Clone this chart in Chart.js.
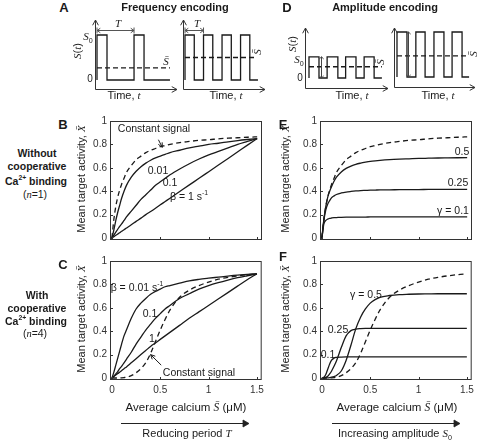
<!DOCTYPE html>
<html>
<head>
<meta charset="utf-8">
<script src="https://cdn.jsdelivr.net/npm/chart.js@4.4.1/dist/chart.umd.min.js"></script>
<style>
html, body { margin: 0; padding: 0; background: #fff; overflow: hidden; }
#fig { position: relative; width: 478px; height: 440px; overflow: hidden; font-family: "Liberation Sans", Arial, sans-serif; color: #1a1a1a; }
#fig canvas, #fig svg { position: absolute; }
.lbl { position: absolute; white-space: nowrap; line-height: 1; transform: translate(-50%, -50%); }
.rot { transform: translate(-50%, -50%) rotate(-90deg); }
.m { font-family: "Liberation Serif", "Times New Roman", serif; font-style: italic; }
sup, sub { font-size: 65%; line-height: 0; }
</style>
</head>
<body>
<div id="fig">
<svg width="478" height="440" style="left:0;top:0">
  <g stroke="#222" stroke-width="1.2" fill="#222">
    <path d="M121 423.5H244" />
    <path d="M243 420L249 423.5L243 427Z" stroke-width="0.8" />
    <path d="M332 423.5H455" />
    <path d="M454 420L460 423.5L454 427Z" stroke-width="0.8" />
  </g>
</svg>
</div>
<script>
// average calcium grid (uM) shared by the steady-state curves
var avgCalcium = [0, 0.02, 0.04, 0.06, 0.08, 0.1, 0.125, 0.15, 0.2, 0.25, 0.3, 0.35, 0.4, 0.45, 0.5, 0.55, 0.6, 0.7, 0.8, 0.9, 1.0, 1.1, 1.2, 1.3, 1.4, 1.5];

// constant signal (dashed), n=1 and n=4
var constantN1 = [0, 0.16, 0.27, 0.35, 0.41, 0.46, 0.51, 0.56, 0.62, 0.67, 0.70, 0.73, 0.75, 0.765, 0.78, 0.79, 0.80, 0.815, 0.825, 0.835, 0.84, 0.848, 0.853, 0.857, 0.861, 0.865];
var constantN4 = [0, 0, 0, 0, 0.001, 0.002, 0.004, 0.007, 0.02, 0.045, 0.08, 0.13, 0.21, 0.31, 0.41, 0.5, 0.58, 0.69, 0.75, 0.79, 0.82, 0.845, 0.86, 0.873, 0.883, 0.89];

// B: frequency encoding, n=1
var freqN1Beta001 = [0, 0.07, 0.15, 0.22, 0.28, 0.34, 0.40, 0.45, 0.52, 0.57, 0.61, 0.64, 0.665, 0.685, 0.70, 0.715, 0.73, 0.75, 0.77, 0.785, 0.80, 0.81, 0.822, 0.833, 0.842, 0.85];
var freqN1Beta01 = [0, 0.025, 0.05, 0.075, 0.10, 0.12, 0.15, 0.18, 0.23, 0.28, 0.33, 0.37, 0.41, 0.45, 0.48, 0.51, 0.54, 0.59, 0.635, 0.675, 0.71, 0.74, 0.77, 0.80, 0.825, 0.85];
var freqN1Beta1 = [0, 0.011, 0.023, 0.034, 0.045, 0.057, 0.071, 0.085, 0.113, 0.142, 0.17, 0.2, 0.227, 0.255, 0.284, 0.312, 0.34, 0.397, 0.454, 0.51, 0.567, 0.624, 0.68, 0.737, 0.794, 0.85];

// C: frequency encoding, n=4
var freqN4Beta001 = [0, 0.05, 0.11, 0.17, 0.23, 0.29, 0.36, 0.41, 0.51, 0.59, 0.64, 0.68, 0.715, 0.74, 0.76, 0.78, 0.79, 0.81, 0.83, 0.843, 0.853, 0.862, 0.871, 0.879, 0.885, 0.891];
var freqN4Beta01 = [0, 0.015, 0.035, 0.055, 0.08, 0.10, 0.13, 0.16, 0.22, 0.29, 0.35, 0.41, 0.46, 0.51, 0.55, 0.59, 0.62, 0.68, 0.72, 0.76, 0.79, 0.815, 0.837, 0.857, 0.874, 0.89];
var freqN4Beta1 = [0, 0.012, 0.025, 0.038, 0.05, 0.063, 0.08, 0.095, 0.13, 0.165, 0.2, 0.235, 0.27, 0.3, 0.33, 0.36, 0.39, 0.45, 0.51, 0.565, 0.62, 0.675, 0.73, 0.785, 0.84, 0.89];

// E: amplitude encoding, n=1
var ampN1Gamma05 = [0, 0.16, 0.27, 0.35, 0.40, 0.44, 0.485, 0.52, 0.565, 0.595, 0.615, 0.63, 0.64, 0.648, 0.655, 0.66, 0.664, 0.67, 0.674, 0.677, 0.68, 0.682, 0.684, 0.685, 0.686, 0.687];
var ampN1Gamma025 = [0, 0.15, 0.24, 0.29, 0.32, 0.345, 0.36, 0.372, 0.385, 0.393, 0.398, 0.402, 0.405, 0.407, 0.409, 0.41, 0.411, 0.412, 0.413, 0.414, 0.414, 0.415, 0.415, 0.415, 0.416, 0.416];
var ampN1Gamma01 = [0, 0.12, 0.15, 0.162, 0.168, 0.171, 0.174, 0.175, 0.177, 0.178, 0.178, 0.179, 0.179, 0.179, 0.18, 0.18, 0.18, 0.18, 0.18, 0.18, 0.18, 0.18, 0.18, 0.18, 0.18, 0.18];

// F: amplitude encoding, n=4
var ampN4Gamma05 = [0, 0, 0.001, 0.002, 0.004, 0.007, 0.013, 0.022, 0.06, 0.15, 0.28, 0.42, 0.52, 0.59, 0.64, 0.67, 0.69, 0.705, 0.713, 0.716, 0.718, 0.719, 0.72, 0.72, 0.72, 0.72];
var ampN4Gamma025 = [0, 0.001, 0.005, 0.015, 0.035, 0.06, 0.1, 0.145, 0.26, 0.36, 0.405, 0.418, 0.422, 0.424, 0.425, 0.425, 0.425, 0.425, 0.425, 0.425, 0.425, 0.425, 0.425, 0.425, 0.425, 0.425];
var ampN4Gamma01 = [0, 0.006, 0.03, 0.075, 0.12, 0.152, 0.17, 0.176, 0.179, 0.18, 0.18, 0.18, 0.18, 0.18, 0.18, 0.18, 0.18, 0.18, 0.18, 0.18, 0.18, 0.18, 0.18, 0.18, 0.18, 0.18];

var xTicks = [0, 0.5, 1, 1.5];
var xTickLabels = ['0', '0.5', '1', '1.5'];
var yTicks = [0, 0.2, 0.4, 0.6, 0.8, 1];
var yTickLabels = ['0', '0.2', '0.4', '0.6', '0.8', '1'];

// square-wave sketches (time in units of the slow period, signal in units of S0 of the tall wave)
var sigA1Time = [0, 0, 0.27, 0.27, 1.0, 1.0, 1.27, 1.27, 1.97];
var sigA1Level = [0, 1, 1, 0, 0, 1, 1, 0, 0];
var sigA2Time = [0, 0, 0.25, 0.25, 0.5, 0.5, 0.75, 0.75, 1.0, 1.0, 1.25, 1.25, 1.5, 1.5, 1.75, 1.75, 1.97];
var sigA2Level = [0, 1, 1, 0, 0, 1, 1, 0, 0, 1, 1, 0, 0, 1, 1, 0, 0];
var sigD1Time = [0, 0, 0.27, 0.27, 0.49, 0.49, 0.78, 0.78, 0.99, 0.99, 1.27, 1.27, 1.49, 1.49, 1.76, 1.76, 1.97];
var sigD1Level = [0, 0.47, 0.47, 0, 0, 0.47, 0.47, 0, 0, 0.47, 0.47, 0, 0, 0.47, 0.47, 0, 0];
var sigD2Time = [0, 0, 0.27, 0.27, 0.51, 0.51, 0.76, 0.76, 1.0, 1.0, 1.27, 1.27, 1.49, 1.49, 1.76, 1.76, 1.95];
var sigD2Level = [0, 1, 1, 0, 0, 1, 1, 0, 0, 1, 1, 0, 0, 1, 1, 0, 0];
var meanA1 = 0.27, meanA2 = 0.5, meanD1 = 0.25, meanD2 = 0.47;

var fig = document.getElementById('fig');
var INK = '#1a1a1a';

function label(html, x, y, size, bold, rot) {
    var d = document.createElement('div');
    d.className = 'lbl' + (rot ? ' rot' : '');
    d.style.left = x + 'px';
    d.style.top = y + 'px';
    d.style.fontSize = size + 'px';
    if (bold) d.style.fontWeight = 'bold';
    d.innerHTML = html;
    fig.appendChild(d);
}

function addCanvas(left, top, w, h) {
    var cv = document.createElement('canvas');
    cv.width = w;
    cv.height = h;
    cv.style.left = left + 'px';
    cv.style.top = top + 'px';
    fig.appendChild(cv);
    return cv;
}

function arrowHead(c, x0, y0, x1, y1, len, spread) {
    var ang = Math.atan2(y1 - y0, x1 - x0);
    c.beginPath();
    c.moveTo(x1 - len * Math.cos(ang - spread), y1 - len * Math.sin(ang - spread));
    c.lineTo(x1, y1);
    c.lineTo(x1 - len * Math.cos(ang + spread), y1 - len * Math.sin(ang + spread));
    c.stroke();
}

// box, inward ticks and pointer arrows for the steady-state plots
function framePlugin(pointers) {
    return {
        id: 'frame',
        afterDatasetsDraw: function (chart) {
            var a = chart.chartArea, c = chart.ctx, sx = chart.scales.x, sy = chart.scales.y;
            c.save();
            c.setLineDash([]);
            c.strokeStyle = '#333';
            c.lineWidth = 1;
            c.strokeRect(a.left + 0.5, a.top + 0.5, a.right - a.left - 1, a.bottom - a.top - 1);
            c.beginPath();
            xTicks.forEach(function (v) {
                var p = Math.round(sx.getPixelForValue(v)) + 0.5;
                c.moveTo(p, a.bottom);
                c.lineTo(p, a.bottom - 3);
            });
            yTicks.forEach(function (v) {
                var p = Math.round(sy.getPixelForValue(v)) + 0.5;
                c.moveTo(a.left, p);
                c.lineTo(a.left + 3, p);
            });
            c.stroke();
            c.strokeStyle = INK;
            pointers.forEach(function (pt) {
                var x0 = sx.getPixelForValue(pt[0]), y0 = sy.getPixelForValue(pt[1]);
                var x1 = sx.getPixelForValue(pt[2]), y1 = sy.getPixelForValue(pt[3]);
                c.beginPath();
                c.moveTo(x0, y0);
                c.lineTo(x1, y1);
                c.stroke();
                arrowHead(c, x0, y0, x1, y1, 5, 0.45);
            });
            c.restore();
        }
    };
}

function steadyChart(box, series, showX, pointers) {
    var cv = addCanvas(box.x - 40, box.y - 8, box.w + 46, box.h + 28);
    var datasets = series.map(function (s) {
        return {
            data: avgCalcium.map(function (x, i) { return { x: x, y: s.values[i] }; }),
            borderColor: INK,
            borderWidth: 1.3,
            borderDash: s.dashed ? [5, 3.5] : [],
            pointRadius: 0,
            fill: false,
            cubicInterpolationMode: 'monotone'
        };
    });
    return new Chart(cv, {
        type: 'line',
        data: { datasets: datasets },
        options: {
            responsive: false,
            animation: false,
            events: [],
            layout: { padding: { left: 0, top: 8, right: 6, bottom: 0 } },
            plugins: { legend: { display: false }, tooltip: { enabled: false } },
            scales: {
                x: {
                    type: 'linear', min: -0.02, max: 1.55,
                    grid: { display: false, drawTicks: false },
                    border: { display: false },
                    afterBuildTicks: function (s) { s.ticks = xTicks.map(function (v) { return { value: v }; }); },
                    afterFit: function (s) { s.height = 20; },
                    ticks: {
                        display: showX, padding: 4, color: '#333', maxRotation: 0,
                        font: { family: '"Liberation Sans", Arial, sans-serif', size: 10 },
                        callback: function (v, i) { return xTickLabels[i]; }
                    }
                },
                y: {
                    type: 'linear', min: -0.017, max: 1.0,
                    grid: { display: false, drawTicks: false },
                    border: { display: false },
                    afterBuildTicks: function (s) { s.ticks = yTicks.map(function (v) { return { value: v }; }); },
                    afterFit: function (s) { s.width = 40; },
                    ticks: {
                        padding: 3, color: '#333',
                        font: { family: '"Liberation Sans", Arial, sans-serif', size: 10 },
                        callback: function (v, i) { return yTickLabels[i]; }
                    }
                }
            }
        },
        plugins: [framePlugin(pointers)]
    });
}

// axes with arrowheads, period bracket and amplitude arrow for the sketches
function sketchPlugin(extra) {
    return {
        id: 'sketchAxes',
        afterDatasetsDraw: function (chart) {
            var a = chart.chartArea, c = chart.ctx, sx = chart.scales.x, sy = chart.scales.y;
            c.save();
            c.setLineDash([]);
            c.strokeStyle = '#333';
            c.lineWidth = 1;
            var ox = Math.round(a.left) + 0.5, oy = Math.round(a.bottom) + 0.5;
            c.beginPath();
            c.moveTo(ox, oy); c.lineTo(ox, a.top);
            c.moveTo(ox, oy); c.lineTo(a.right, oy);
            c.stroke();
            arrowHead(c, ox, oy, ox, a.top, 6, 0.5);
            arrowHead(c, ox, oy, a.right, oy, 6, 0.5);
            if (extra.period) {
                var p = extra.period;
                var x0 = sx.getPixelForValue(p[0]), x1 = sx.getPixelForValue(p[1]), y = Math.round(sy.getPixelForValue(p[2])) + 0.5;
                c.strokeStyle = '#555';
                c.beginPath();
                c.moveTo(x0, y); c.lineTo(x1, y);
                c.moveTo(x0, y - 3); c.lineTo(x0, y + 3);
                c.moveTo(x1, y - 3); c.lineTo(x1, y + 3);
                c.stroke();
                arrowHead(c, x1, y, x0, y, 4, 0.6);
                arrowHead(c, x0, y, x1, y, 4, 0.6);
            }
            if (extra.amp) {
                var q = extra.amp;
                var xa = Math.round(sx.getPixelForValue(q[0])) + 0.5, ya = sy.getPixelForValue(q[1]), yb = sy.getPixelForValue(q[2]);
                c.strokeStyle = '#444';
                c.beginPath();
                c.moveTo(xa, ya); c.lineTo(xa, yb);
                c.stroke();
                arrowHead(c, xa, yb, xa, ya, 3, 0.8);
                arrowHead(c, xa, ya, xa, yb, 3, 0.8);
            }
            c.restore();
        }
    };
}

function sketch(area, xr, yr, times, levels, mean, meanEnd, extra) {
    var pad = 6;
    var cv = addCanvas(area.l - pad, area.t - pad, area.r - area.l + 2 * pad, area.b - area.t + 2 * pad);
    return new Chart(cv, {
        type: 'line',
        data: {
            datasets: [{
                data: times.map(function (t, i) { return { x: t, y: levels[i] }; }),
                borderColor: INK, borderWidth: 1.3, pointRadius: 0, tension: 0
            }, {
                data: [{ x: 0, y: mean }, { x: meanEnd, y: mean }],
                borderColor: INK, borderWidth: 1.3, borderDash: [5, 3], pointRadius: 0
            }]
        },
        options: {
            responsive: false,
            animation: false,
            events: [],
            layout: { padding: pad },
            plugins: { legend: { display: false }, tooltip: { enabled: false } },
            scales: {
                x: { type: 'linear', display: false, min: xr[0], max: xr[1] },
                y: { type: 'linear', display: false, min: yr[0], max: yr[1] }
            }
        },
        plugins: [sketchPlugin(extra)]
    });
}

// ---- sketches A and D
sketch({ l: 95, t: 20, r: 177, b: 89 }, [-0.054, 2.16], [-0.2, 1.333], sigA1Time, sigA1Level, meanA1, 1.97, { period: [0, 1, 1.11] });
sketch({ l: 183, t: 20, r: 265, b: 89 }, [-0.054, 2.16], [-0.2, 1.333], sigA2Time, sigA2Level, meanA2, 1.89, { period: [0, 0.5, 1.11] });
sketch({ l: 305, t: 28, r: 388, b: 88 }, [-0.108, 2.135], [-0.222, 1.111], sigD1Time, sigD1Level, meanD1, 1.97, { amp: [0.32, 0, 0.47] });
sketch({ l: 394, t: 28, r: 475, b: 87 }, [-0.081, 2.11], [-0.222, 1.089], sigD2Time, sigD2Level, meanD2, 1.92, { amp: [0.3, 0, 1.0] });

// ---- steady-state panels
steadyChart({ x: 110, y: 120, w: 152, h: 120 }, [
    { values: constantN1, dashed: true },
    { values: freqN1Beta001 }, { values: freqN1Beta01 }, { values: freqN1Beta1 }
], false, [[0.48, 0.84, 0.52, 0.775]]);
steadyChart({ x: 110, y: 260, w: 152, h: 120 }, [
    { values: constantN4, dashed: true },
    { values: freqN4Beta001 }, { values: freqN4Beta01 }, { values: freqN4Beta1 }
], true, [[0.51, 0.11, 0.40, 0.2]]);
steadyChart({ x: 320, y: 120, w: 152, h: 120 }, [
    { values: constantN1, dashed: true },
    { values: ampN1Gamma05 }, { values: ampN1Gamma025 }, { values: ampN1Gamma01 }
], false, []);
steadyChart({ x: 320, y: 260, w: 152, h: 120 }, [
    { values: constantN4, dashed: true },
    { values: ampN4Gamma05 }, { values: ampN4Gamma025 }, { values: ampN4Gamma01 }
], true, []);

// ---- text
var S = '<span class="m">S</span>', Sbar = '<span class="m">S&#772;</span>', Xbar = '<span class="m">X&#772;</span>';
label('A', 64, 7, 13, true);
label('Frequency encoding', 175, 7, 11, true);
label('D', 287, 7, 13, true);
label('Amplitude encoding', 385, 7, 11, true);

label(S + '(<span class="m">t</span>)', 77, 51, 11, false, true);
label(S + '<sub>0</sub>', 88, 36, 11);
label('0', 90, 79, 10);
label('<span class="m">T</span>', 118, 23, 11);
label(Sbar, 166, 61, 11);
label('<span class="m">T</span>', 197, 23, 11);
label(Sbar, 257, 52, 11, false, true);
label('Time, <span class="m">t</span>', 124, 95, 11);
label('Time, <span class="m">t</span>', 226, 95, 11);

label(S + '(<span class="m">t</span>)', 292, 44, 11, false, true);
label(S + '<sub>0</sub>', 299, 59, 11);
label('0', 300, 78, 10);
label(Sbar, 380, 62, 11, false, true);
label(Sbar, 473, 54, 11, false, true);
label('Time, <span class="m">t</span>', 352, 95, 11);
label('Time, <span class="m">t</span>', 438, 95, 11);

label('B', 63, 124, 13, true);
label('C', 63, 264, 13, true);
label('E', 283, 124, 13, true);
label('F', 283, 256, 13, true);

label('Without', 37, 153, 10.5, true);
label('cooperative', 37, 166, 10.5, true);
label('Ca<sup>2+</sup> binding', 36, 181, 10.5, true);
label('(<span class="m">n</span>=1)', 35, 195, 10.5);
label('With', 37, 295, 10.5, true);
label('cooperative', 37, 308, 10.5, true);
label('Ca<sup>2+</sup> binding', 36, 321, 10.5, true);
label('(<span class="m">n</span>=4)', 35, 334, 10.5);

var yTitle = 'Mean target activity, ' + Xbar;
label(yTitle, 81, 179, 11, false, true);
label(yTitle, 81, 319, 11, false, true);
label(yTitle, 285, 179, 11, false, true);
label(yTitle, 285, 319, 11, false, true);

label('Constant signal', 154, 128, 10.5);
label('0.01', 158, 170, 10.5);
label('0.1', 170, 182, 10.5);
label('&beta; = 1 s<sup>-1</sup>', 189, 196, 10.5);

label('&beta; = 0.01 s<sup>-1</sup>', 137, 287, 10.5);
label('0.1', 150, 313, 10.5);
label('1', 152, 338, 10.5);
label('Constant signal', 199, 372, 10.5);

label('0.5', 462, 151, 10.5);
label('0.25', 458, 182, 10.5);
label('&gamma; = 0.1', 453, 210, 10.5);

label('&gamma; = 0.5', 366, 294, 10.5);
label('0.25', 338, 329, 10.5);
label('0.1', 328, 354, 10.5);

label('Average calcium ' + Sbar + ' (&mu;M)', 186, 408, 11.5);
label('Average calcium ' + Sbar + ' (&mu;M)', 397, 408, 11.5);
label('Reducing period <span class="m">T</span>', 187, 433, 11);
label('Increasing amplitude ' + S + '<sub>0</sub>', 395, 433, 11);
</script>
</body>
</html>
